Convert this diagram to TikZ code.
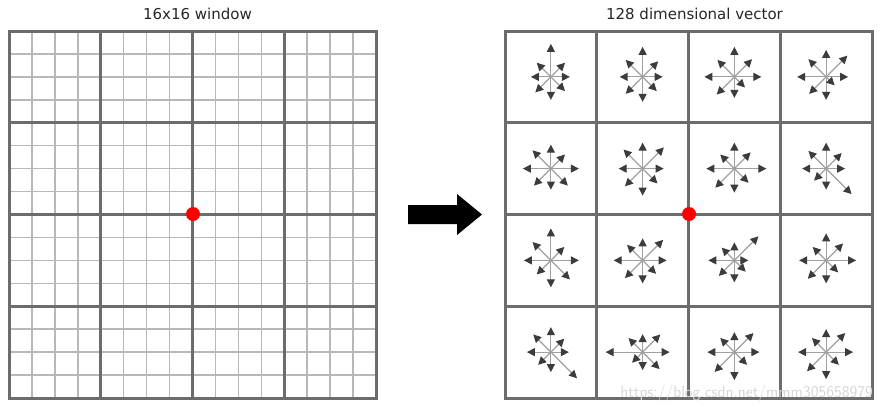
\documentclass[tikz,border=0pt]{standalone}
\usepackage{fontspec}
\setmainfont{DejaVu Sans}
\usetikzlibrary{arrows.meta}
\definecolor{majorgrid}{HTML}{6C6C6C}
\definecolor{minorgrid}{HTML}{B8B8B8}
\definecolor{shaft}{HTML}{A0A0A0}
\definecolor{tipcol}{HTML}{3C3C3C}
\definecolor{wmark}{HTML}{D6D6D6}
\tikzset{
  major/.style={draw=majorgrid,line width=3pt},
  minor/.style={draw=minorgrid,line width=1.6pt},
  vec/.style={draw=shaft,line width=1.1pt,-{Triangle[length=8pt,width=8pt,color=tipcol]}},
  title/.style={font=\fontsize{15}{17}\selectfont,text=black!85,inner sep=0pt,anchor=base},
  keydot/.style={circle,fill=red,minimum size=14pt,inner sep=0pt},
}
\newcommand\myhist[3]{%
  \foreach \len [count=\k from 0] in {#3} {
    \draw[vec] ({505+(#2-0.5)*91.75},{31+(#1-0.5)*91.75}) -- ++({-\k*45}:\len);
  }%
}
\begin{document}
\begin{tikzpicture}[x=1pt,y=-1pt]
\useasboundingbox (0,0) rectangle (885,413);
% left fine grid
\foreach \i in {1,...,15} {
  \draw[minor] ({9+\i*367/16},31) -- ({9+\i*367/16},398);
  \draw[minor] (9,{31+\i*367/16}) -- (376,{31+\i*367/16});
}
\foreach \i in {1,2,3} {
  \draw[major] ({9+\i*367/4},31) -- ({9+\i*367/4},398);
  \draw[major] (9,{31+\i*367/4}) -- (376,{31+\i*367/4});
}
\draw[major] (9,31) rectangle (376,398);
% right grid
\foreach \i in {1,2,3} {
  \draw[major] ({505+\i*367/4},31) -- ({505+\i*367/4},398);
  \draw[major] (505,{31+\i*367/4}) -- (872,{31+\i*367/4});
}
\draw[major] (505,31) rectangle (872,398);
% histograms: E, NE, N, NW, W, SW, S, SE
\myhist{1}{1}{19,20,33,20,20,22,23,20}
\myhist{1}{2}{20,22,30,24,23,24,25,20}
\myhist{1}{3}{27,25,30,24,30,25,21,15}
\myhist{1}{4}{22,30,27,25,29,24,23,12}
\myhist{2}{1}{28,20,24,26,28,24,21,24}
\myhist{2}{2}{21,30,26,27,24,25,27,21}
\myhist{2}{3}{32,23,26,20,28,27,24,20}
\myhist{2}{4}{19,22,26,25,24,17,21,36}
\myhist{3}{1}{28,19,32,26,27,20,27,27}
\myhist{3}{2}{24,29,22,22,29,25,23,19}
\myhist{3}{3}{14,34,18,18,26,22,22,16}
\myhist{3}{4}{30,24,27,19,27,26,23,17}
\myhist{4}{1}{18,19,25,25,24,18,20,37}
\myhist{4}{2}{27,25,18,20,37,15,18,24}
\myhist{4}{3}{25,27,20,20,27,28,28,18}
\myhist{4}{4}{27,27,23,20,28,27,27,18}
% key points
\node[keydot] (dotL) at (193,214) {};
\node[keydot] (dotR) at (689,214) {};
% big arrow
\fill[black] (408,205) -- (457,205) -- (457,194) -- (482,214.5) -- (457,235) -- (457,224) -- (408,224) -- cycle;
% titles
\node[title] (tL) at (197.5,19) {16x16 window};
\node[title] (tR) at (694.5,19) {128 dimensional vector};
% watermark
\node[font=\fontsize{16.5}{18}\selectfont\sffamily,text=wmark,anchor=base east,inner sep=0pt] (wm) at (873,397) {https://blog.csdn.net/mmm305658979};
\end{tikzpicture}
\end{document}
